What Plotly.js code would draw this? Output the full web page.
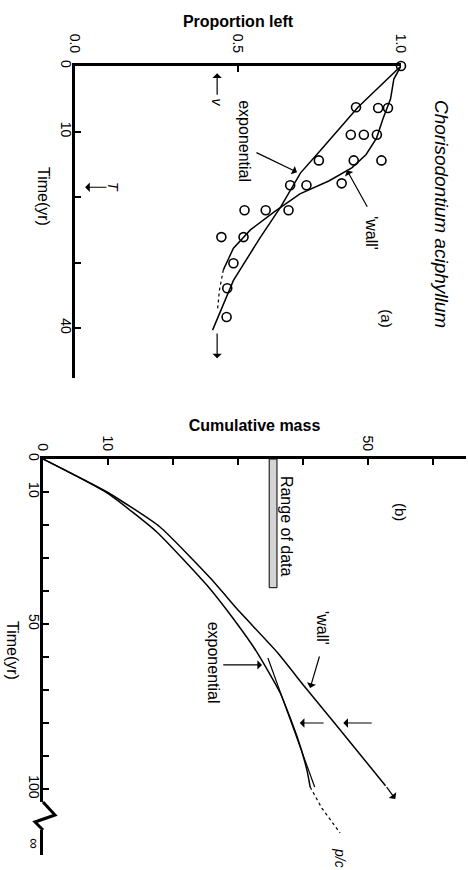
<!DOCTYPE html>
<html><head><meta charset="utf-8">
<script src="https://cdn.plot.ly/plotly-3.0.1.min.js"></script>
<style>html,body{margin:0;padding:0;background:#fff}#chart{width:468px;height:870px}</style>
</head><body><div id="chart"></div>
<script>
// ---------- Panel (a): proportion left vs time (yr) ----------
const obsTimeA = [0, 6.3, 6.4, 6.4, 10.5, 10.5, 10.5, 14.4, 14.4, 14.4, 18.2, 18.2, 17.9, 22, 22, 22, 26.1, 26.1, 30.1, 33.9, 38.3];
const obsPropA = [1.0, 0.862, 0.93, 0.96, 0.846, 0.886, 0.926, 0.748, 0.855, 0.94, 0.66, 0.71, 0.818, 0.52, 0.585, 0.655, 0.449, 0.517, 0.486, 0.467, 0.465];
const expTimeA = [0, 6.3, 12.8, 16.3, 21.5, 26.1, 32.7, 40.3];
const expPropA = [1.0, 0.868, 0.754, 0.692, 0.631, 0.569, 0.486, 0.422];
const wallTimeA = [0, 2, 5, 8, 11, 13.5, 15.5, 17.5, 19.5, 22.3, 25, 27.8, 31.1];
const wallPropA = [1.0, 0.978, 0.968, 0.945, 0.925, 0.893, 0.85, 0.78, 0.69, 0.61, 0.538, 0.486, 0.455];
const wallTailTimeA = [31.1, 34.2, 37.3];
const wallTailPropA = [0.455, 0.443, 0.437];
const timeTicksA = [0, 10, 20, 30, 40];
const timeTickTextA = ['0', '10', '', '', '40'];
const propTicks = [0, 0.5, 1.0];
const propTickText = ['0.0', '0.5', '1.0'];

// ---------- Panel (b): cumulative mass vs time (yr) ----------
const wallTimeB = [0, 10, 20.6, 36, 46.4, 58.5, 69.1, 80, 99];
const wallMassB = [0, 9.85, 18, 25.7, 30.3, 36, 40.3, 44.85, 52.7];
const expTimeB = [0, 10.3, 22.1, 38.2, 48.2, 58.5, 70.9, 84.2, 94.2, 99.4];
const expMassB = [0, 9.85, 17.5, 25.2, 29.2, 32.9, 36.5, 39.1, 40.6, 41.1];
const tanTimeB = [60.3, 99.4];
const tanMassB = [34.6, 41.8];
const asymTimeB = [99.4, 105.8, 113.3];
const asymMassB = [41.1, 42.9, 45.7];
const rangeTimeB = [0, 39];
const rangeMassB = 35.4;
const timeTicksB = [0, 10, 20, 30, 40, 50, 60, 70, 80, 90, 100];
const timeTickTextB = ['0', '10', '', '', '', '50', '', '', '', '', '100'];
const massTicks = [0, 10, 20, 30, 40, 50, 60];
const massTickText = ['0', '10', '', '', '', '50', ''];

const W = 468, H = 870;
const px = v => v / W, py = v => 1 - v / H;
const FONT = 'Liberation Sans, Arial, sans-serif';
const ln = {color: '#000', width: 1.5};

const traces = [
  {x: expPropA, y: expTimeA, xaxis: 'x', yaxis: 'y', mode: 'lines', line: ln, name: 'exponential (a)'},
  {x: wallPropA, y: wallTimeA, xaxis: 'x', yaxis: 'y', mode: 'lines', line: ln, name: "'wall' (a)"},
  {x: wallTailPropA, y: wallTailTimeA, xaxis: 'x', yaxis: 'y', mode: 'lines', line: {color: '#000', width: 1.2, dash: '3px,3px'}, name: "'wall' tail (a)"},
  {x: obsPropA, y: obsTimeA, xaxis: 'x', yaxis: 'y', mode: 'markers', cliponaxis: false,
   marker: {symbol: 'circle-open', size: 9, color: '#000', line: {width: 1.6, color: '#000'}}, name: 'observed'},
  {type: 'bar', x: [rangeMassB], y: [rangeTimeB[1] - rangeTimeB[0]], base: [rangeTimeB[0]], width: [1.2],
   xaxis: 'x2', yaxis: 'y2', marker: {color: '#d4d4d4', line: {color: '#000', width: 1}}, name: 'Range of data'},
  {x: wallMassB, y: wallTimeB, xaxis: 'x2', yaxis: 'y2', mode: 'lines', line: {shape: 'spline', smoothing: 0.5, color: '#000', width: 1.5}, name: "'wall' (b)"},
  {x: expMassB, y: expTimeB, xaxis: 'x2', yaxis: 'y2', mode: 'lines', line: {shape: 'spline', smoothing: 0.5, color: '#000', width: 1.5}, name: 'exponential (b)'},
  {x: tanMassB, y: tanTimeB, xaxis: 'x2', yaxis: 'y2', mode: 'lines', line: {color: '#000', width: 1.2}, name: 'tangent'},
  {x: asymMassB, y: asymTimeB, xaxis: 'x2', yaxis: 'y2', mode: 'lines', line: {color: '#000', width: 1.2, dash: 'dot'}, name: 'p/c'}
];

const axBase = {showline: true, linewidth: 3, linecolor: '#000', ticks: 'inside', ticklen: 6, tickwidth: 2,
  tickcolor: '#000', showgrid: false, zeroline: false, tickangle: 90, tickmode: 'array',
  tickfont: {family: FONT, size: 14, color: '#000'}, fixedrange: true};

function arrow(xr, yr, x, y, axv, ayv, extra) {
  return Object.assign({xref: xr, yref: yr, x: x, y: y, ax: axv, ay: ayv, axref: xr, ayref: yr,
    text: '', showarrow: true, arrowhead: 1, arrowsize: 1.3, arrowwidth: 1.2, arrowcolor: '#000', standoff: 0}, extra || {});
}
function label(xr, yr, x, y, text, size, extra) {
  return Object.assign({xref: xr, yref: yr, x: x, y: y, text: text, showarrow: false, textangle: 90,
    font: {family: FONT, size: size, color: '#000'}, xanchor: 'center', yanchor: 'middle'}, extra || {});
}

const annotations = [
  label('paper', 'paper', px(442), py(214), '<i>Chorisodontium aciphyllum</i>', 19),
  label('paper', 'paper', px(43), py(196), 'Time(yr)', 16),
  label('paper', 'paper', px(13), py(650), 'Time(yr)', 16),
  label('paper', 'paper', px(35), py(843), '∞', 15),
  label('paper', 'paper', px(340), py(858), '<i>p/c</i>', 14),
  // panel a
  label('x', 'y', 0.521, 11.45, 'exponential', 16),
  arrow('x', 'y', 0.681, 16.2, 0.552, 13.1),
  label('x', 'y', 0.911, 25.5, "'wall'", 16),
  arrow('x', 'y', 0.834, 15.9, 0.899, 21.7),
  label('x', 'y', 0.957, 38.5, '(a)', 15),
  arrow('x', 'y', 0.436, 1.1, 0.436, 4.6),
  label('x', 'y', 0.436, 5.6, '<i>v</i>', 14),
  arrow('x', 'y', 0.031, 18.5, 0.101, 18.5),
  label('x', 'y', 0.117, 18.5, '<i>T</i>', 14),
  arrow('x', 'y', 0.436, 44.6, 0.436, 40.6),
  // panel b
  label('x2', 'y2', 55.1, 16.1, '(b)', 15),
  label('x2', 'y2', 37.4, 20.3, 'Range of data', 16),
  label('x2', 'y2', 42.9, 51.2, "'wall'", 16),
  arrow('x2', 'y2', 41.1, 69.4, 42.6, 59.4),
  label('x2', 'y2', 26.2, 61.8, 'exponential', 16),
  arrow('x2', 'y2', 33.7, 62.4, 27.5, 62.4),
  arrow('x2', 'y2', 39.5, 80, 43.4, 80),
  arrow('x2', 'y2', 46.2, 80, 50.8, 80),
  arrow('x2', 'y2', 54.2, 103, 52.7, 99)
];

const shapes = [
  {type: 'rect', xref: 'paper', yref: 'paper', x0: px(36), x1: px(50), y0: py(830), y1: py(802),
   fillcolor: '#fff', line: {width: 0}, layer: 'above'},
  {type: 'path', xref: 'paper', yref: 'paper', layer: 'above', line: {color: '#000', width: 3},
   path: `M ${px(43)} ${py(802)} L ${px(55)} ${py(815)} L ${px(35)} ${py(822)} L ${px(43)} ${py(830)}`}
];

const layout = {
  width: W, height: H, margin: {l: 0, r: 0, t: 0, b: 0}, showlegend: false,
  paper_bgcolor: '#fff', plot_bgcolor: 'rgba(0,0,0,0)', font: {family: FONT, color: '#000'},
  xaxis: Object.assign({}, axBase, {domain: [px(75), px(401)], range: [0, 1], side: 'top', anchor: 'y',
    tickvals: propTicks, ticktext: propTickText, ticklabelstandoff: 5,
    title: {text: 'Proportion left', font: {family: FONT, size: 16, weight: 'bold', color: '#000'}, standoff: 3}}),
  yaxis: Object.assign({}, axBase, {domain: [py(378), py(66)], range: [47.6, 0], anchor: 'x',
    tickvals: timeTicksA, ticktext: timeTickTextA, ticklabelstandoff: -6}),
  xaxis2: Object.assign({}, axBase, {domain: [px(43), px(466)], range: [0, 65.08], side: 'top', anchor: 'y2',
    tickvals: massTicks, ticktext: massTickText, ticklabelstandoff: 0,
    title: {text: 'Cumulative mass', font: {family: FONT, size: 16, weight: 'bold', color: '#000'}, standoff: 0}}),
  yaxis2: Object.assign({}, axBase, {domain: [py(855), py(459)], range: [120, 0], anchor: 'x2',
    tickvals: timeTicksB, ticktext: timeTickTextB, ticklabelstandoff: -6}),
  annotations: annotations,
  shapes: shapes
};

Plotly.newPlot('chart', traces, layout, {staticPlot: true, displayModeBar: false});
</script>
</body></html>
